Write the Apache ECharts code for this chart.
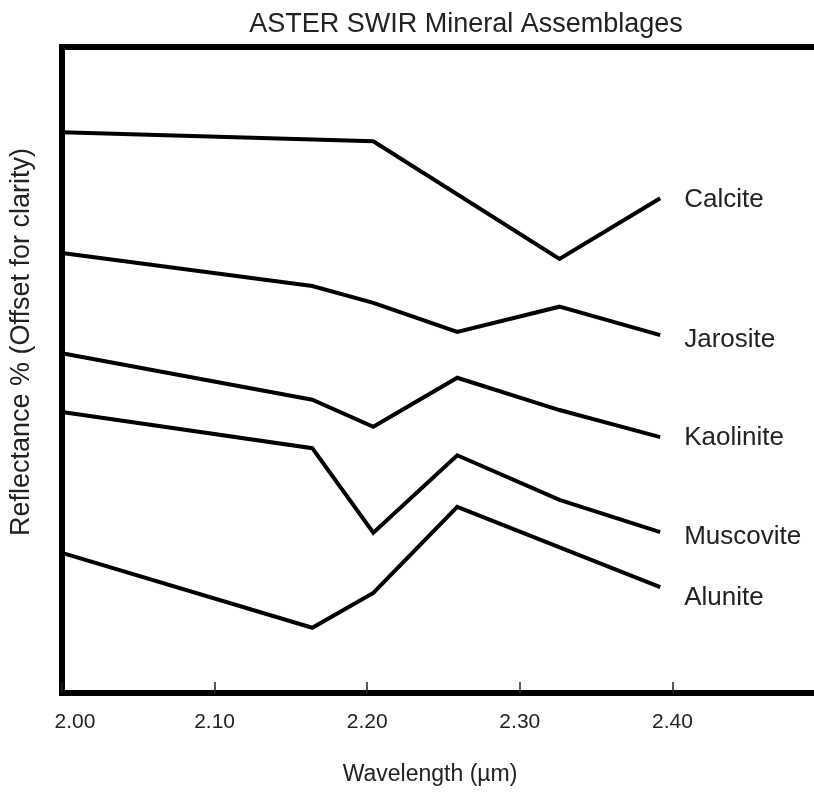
<!DOCTYPE html>
<html>
<head>
<meta charset="utf-8">
<script src="https://cdn.jsdelivr.net/npm/echarts@6/dist/echarts.min.js"></script>
<style>
html,body{margin:0;padding:0;background:#fff;}
#chart{width:814px;height:795px;}
</style>
</head>
<body>
<div id="chart"></div>
<script>
// Wavelength positions (µm) of the vertices
const calciteX   = [2.000, 2.204, 2.326, 2.392];
const calciteY   = [86.8, 85.4, 67.2, 76.6];
const jarositeX  = [2.000, 2.164, 2.204, 2.259, 2.326, 2.392];
const jarositeY  = [68.1, 63.0, 60.4, 55.9, 59.8, 55.4];
const kaoliniteX = [2.000, 2.164, 2.204, 2.259, 2.326, 2.392];
const kaoliniteY = [52.6, 45.4, 41.2, 48.8, 43.8, 39.6];
const muscoviteX = [2.000, 2.164, 2.204, 2.259, 2.326, 2.392];
const muscoviteY = [43.5, 37.9, 24.8, 36.8, 29.9, 24.9];
const aluniteX   = [2.000, 2.164, 2.204, 2.259, 2.392];
const aluniteY   = [21.7, 10.1, 15.5, 28.8, 16.4];
const mineralNames = ['Calcite', 'Jarosite', 'Kaolinite', 'Muscovite', 'Alunite'];
const tickLabels = ['2.00', '2.10', '2.20', '2.30', '2.40'];

const FONT = '"Liberation Sans", Arial, Helvetica, sans-serif';
const TXT = '#222';

function zip(xs, ys) { return xs.map((x, i) => [x, ys[i]]); }
const seriesData = [
  zip(calciteX, calciteY),
  zip(jarositeX, jarositeY),
  zip(kaoliniteX, kaoliniteY),
  zip(muscoviteX, muscoviteY),
  zip(aluniteX, aluniteY)
];
const labelOffsets = [[0, 2], [0, 5], [0, 1], [0, 5], [0, 11]];

const chart = echarts.init(document.getElementById('chart'), null, {renderer: 'canvas'});
chart.setOption({
  animation: false,
  backgroundColor: '#fff',
  title: {
    text: 'ASTER SWIR Mineral Assemblages',
    left: 461, top: 6, textAlign: 'center',
    textStyle: {fontFamily: FONT, fontSize: 27, fontWeight: 'normal', color: TXT}
  },
  grid: {
    left: 62, width: 763, top: 47, height: 646,
    containLabel: false, outerBoundsMode: 'none',
    show: true, borderColor: '#000', borderWidth: 6, backgroundColor: 'transparent'
  },
  xAxis: {
    type: 'value', min: 2.0, max: 2.5, interval: 0.1,
    axisLine: {show: false},
    splitLine: {show: false},
    axisTick: {show: true, inside: true, length: 11, lineStyle: {color: '#222', width: 1.5}},
    axisLabel: {
      margin: 19, showMaxLabel: false,
      fontFamily: FONT, fontSize: 21, color: TXT,
      formatter: function (v) {
        const i = Math.round((v - 2.0) * 10);
        if (i === 0) return '{first|' + tickLabels[0] + '}';
        return tickLabels[i] !== undefined ? tickLabels[i] : '';
      },
      rich: {first: {fontFamily: FONT, fontSize: 21, color: TXT, padding: [0, 0, 0, 26]}}
    }
  },
  yAxis: {
    type: 'value', min: 0, max: 100, show: false, splitLine: {show: false}
  },
  graphic: [
    {
      type: 'text',
      x: 430, y: 775,
      style: {text: 'Wavelength (µm)', fontFamily: FONT, fontSize: 23, fill: TXT,
              textAlign: 'center', textVerticalAlign: 'middle'}
    },
    {
      type: 'text',
      x: 22, y: 342, rotation: Math.PI / 2,
      style: {text: 'Reflectance % (Offset for clarity)', fontFamily: FONT, fontSize: 27, fill: TXT,
              textAlign: 'center', textVerticalAlign: 'middle'}
    }
  ],
  series: mineralNames.map((name, k) => ({
    name: name,
    type: 'line',
    data: seriesData[k],
    symbol: 'none',
    lineStyle: {color: '#000', width: 4, join: 'miter'},
    itemStyle: {color: '#000'},
    endLabel: {
      show: true, formatter: '{a}', distance: 24, offset: labelOffsets[k],
      fontFamily: FONT, fontSize: 26, color: TXT
    }
  }))
});
</script>
</body>
</html>
